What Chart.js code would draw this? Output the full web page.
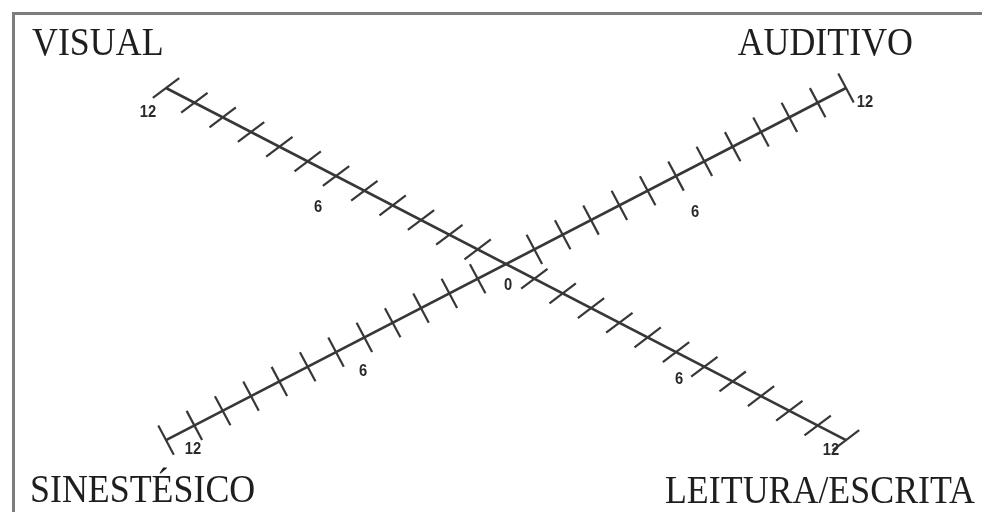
<!DOCTYPE html>
<html>
<head>
<meta charset="utf-8">
<script src="https://cdn.jsdelivr.net/npm/chart.js@4.4.0/dist/chart.umd.min.js"></script>
<style>
  html, body { margin: 0; padding: 0; background: #fff; overflow: hidden; }
  #caixa { width: 982px; height: 512px; position: relative; }
</style>
</head>
<body>
<div id="caixa"><canvas id="estilosVark"></canvas></div>
<script>
// Dados do diagrama (eixos VARK)
var categorias = ['VISUAL', 'AUDITIVO', 'SINESTÉSICO', 'LEITURA/ESCRITA'];
// sentido de cada braço no plano (x, y)
var sentidoX = [-1, 1, -1, 1];
var sentidoY = [1, 1, -1, -1];
// marcas de 1 a 12 em cada braço
var marcas = [1, 2, 3, 4, 5, 6, 7, 8, 9, 10, 11, 12];
var valorMaximo = 12;
// rótulos numéricos da escala
var rotulosEscala = [0, 6, 12];

// pontos de cada braço (índice = categoria)
function pontosDoBraco(i) {
  return marcas.map(m => ({ x: sentidoX[i] * m, y: sentidoY[i] * m }));
}

// deslocamentos (px) dos números em relação à marca
var deslocNumeros = {
  0: [[2, 22], [2, 22], [2, 22], [2, 22]],
  6: [[-18, 32], [19, 37], [27, 20], [3, 28]],
  12: [[-18, 25], [19, 15], [27, 9], [-15, 10]]
};

var corLinha = '#373737';

/* Plugin: moldura, títulos e números */
var pluginTextos = {
  id: 'textos',
  beforeDraw(chart) {
    var c = chart.ctx;
    c.save();
    c.strokeStyle = '#7d7d7d';
    c.lineWidth = 3;
    c.beginPath();
    c.moveTo(13.5, 512);
    c.lineTo(13.5, 13.5);
    c.lineTo(982, 13.5);
    c.stroke();
    c.restore();
  },
  afterDatasetsDraw(chart) {
    var c = chart.ctx;
    var sx = chart.scales.x, sy = chart.scales.y;

    // números da escala
    c.save();
    c.fillStyle = '#2a2a2a';
    c.font = 'bold 16px "Liberation Sans", Arial, sans-serif';
    c.textAlign = 'center';
    c.textBaseline = 'middle';
    rotulosEscala.forEach(v => {
      var bracos = v === 0 ? [0] : [0, 1, 2, 3];
      bracos.forEach(i => {
        var px = sx.getPixelForValue(sentidoX[i] * v) + deslocNumeros[v][i][0];
        var py = sy.getPixelForValue(sentidoY[i] * v) + deslocNumeros[v][i][1];
        c.save();
        c.translate(px, py);
        c.scale(0.92, 1);
        c.fillText(String(v), 0, 0);
        c.restore();
      });
    });
    c.restore();

    // títulos dos estilos
    var posTitulos = [
      { x: 32, y: 55, alinhar: 'left' },
      { x: 913, y: 55, alinhar: 'right' },
      { x: 30, y: 502, alinhar: 'left' },
      { x: 975, y: 503, alinhar: 'right' }
    ];
    c.save();
    c.fillStyle = '#1e1e1e';
    c.font = '39px "Liberation Serif", "Times New Roman", serif';
    c.textBaseline = 'alphabetic';
    categorias.forEach((t, i) => {
      var p = posTitulos[i];
      c.save();
      c.translate(p.x, p.y);
      c.scale(0.92, 1);
      c.textAlign = p.alinhar;
      c.fillText(t, 0, 0);
      c.restore();
    });
    c.restore();
  }
};

var ctxVark = document.getElementById('estilosVark').getContext('2d');
var graficoVark = new Chart(ctxVark, {
  type: 'scatter',
  data: {
    datasets: [
      {
        // eixo VISUAL - LEITURA/ESCRITA
        data: [
          { x: sentidoX[0] * valorMaximo, y: sentidoY[0] * valorMaximo },
          { x: sentidoX[3] * valorMaximo, y: sentidoY[3] * valorMaximo }
        ],
        showLine: true,
        borderColor: corLinha,
        borderWidth: 2.6,
        pointRadius: 0
      },
      {
        // eixo SINESTÉSICO - AUDITIVO
        data: [
          { x: sentidoX[2] * valorMaximo, y: sentidoY[2] * valorMaximo },
          { x: sentidoX[1] * valorMaximo, y: sentidoY[1] * valorMaximo }
        ],
        showLine: true,
        borderColor: corLinha,
        borderWidth: 2.6,
        pointRadius: 0
      },
      {
        // marcas VISUAL e LEITURA/ESCRITA
        data: pontosDoBraco(0).concat(pontosDoBraco(3)),
        showLine: false,
        pointStyle: 'line',
        pointRotation: -37,
        pointRadius: 16.5,
        pointBorderWidth: 2.2,
        pointBorderColor: corLinha
      },
      {
        // marcas AUDITIVO e SINESTÉSICO
        data: pontosDoBraco(1).concat(pontosDoBraco(2)),
        showLine: false,
        pointStyle: 'line',
        pointRotation: 62,
        pointRadius: 16.5,
        pointBorderWidth: 2.2,
        pointBorderColor: corLinha
      }
    ]
  },
  options: {
    responsive: true,
    maintainAspectRatio: false,
    animation: false,
    events: [],
    layout: { padding: 0, autoPadding: false },
    plugins: {
      legend: { display: false },
      tooltip: { enabled: false }
    },
    scales: {
      x: { type: 'linear', bounds: 'data', min: -17.86, max: 16.8, display: false },
      y: { type: 'linear', bounds: 'data', min: -16.9, max: 18.0, display: false }
    }
  },
  plugins: [pluginTextos]
});
</script>
</body>
</html>
